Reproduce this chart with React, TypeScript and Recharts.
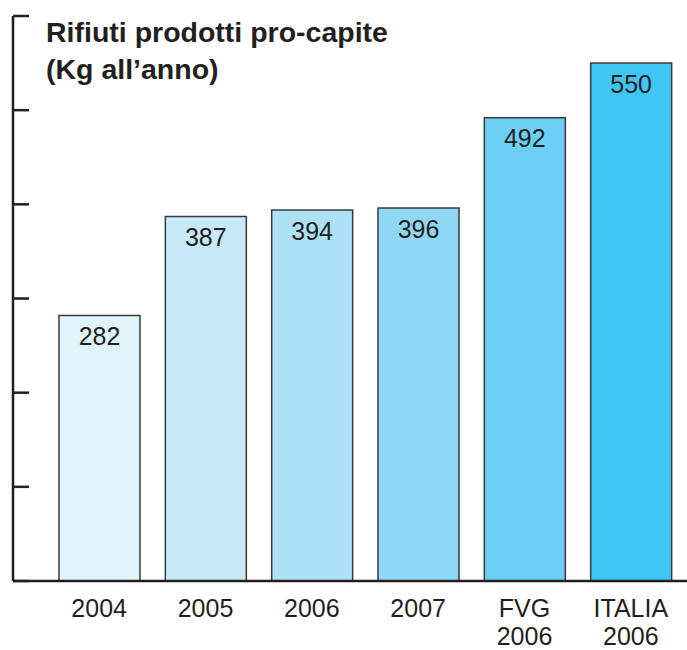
import React from 'react';
import { BarChart, Bar, XAxis, YAxis, Cell, LabelList } from 'recharts';

const categories = ['2004', '2005', '2006', '2007', 'FVG\n2006', 'ITALIA\n2006'];
const values = [282, 387, 394, 396, 492, 550];
const fills = ['#e0f3fb', '#c7e9f8', '#ade1f6', '#8ed7f5', '#6dcff6', '#40c6f4'];
const yTicks = [0, 100, 200, 300, 400, 500, 600];

const data = categories.map((name, i) => ({ name, value: values[i] }));

const ink = '#231f20';
const font = '"Liberation Sans", Arial, Helvetica, sans-serif';

// category labels, some of them on two lines
const CategoryTick = (props: any) => {
  const { x, y, payload } = props;
  const lines = String(payload.value).split('\n');
  return (
    <text x={x} y={y} textAnchor="middle" fill={ink} fontSize={25} fontFamily={font}>
      {lines.map((l, i) => (
        <tspan key={i} x={x} dy={i === 0 ? 28 : 28}>{l}</tspan>
      ))}
    </text>
  );
};

export default function App() {
  return (
    <div style={{ position: 'absolute', left: 0, top: 0, width: 687, height: 650, background: '#fff' }}>
      <BarChart
        width={687}
        height={650}
        data={data}
        margin={{ top: 16, right: 0, left: 13, bottom: 0 }}
        barSize={81}
      >
        <XAxis
          dataKey="name"
          height={69}
          padding={{ left: 33, right: 3 }}
          stroke={ink}
          strokeWidth={2.5}
          tickLine={false}
          tick={<CategoryTick />}
          interval={0}
        />
        <YAxis
          width={1}
          domain={[0, 600]}
          ticks={yTicks}
          mirror
          tickSize={16}
          tickFormatter={() => ''}
          stroke={ink}
          strokeWidth={2.5}
          axisLine={{ stroke: ink, strokeWidth: 2.5 }}
          tickLine={{ stroke: ink, strokeWidth: 2.5 }}
        />
        <Bar dataKey="value" stroke="#3a3a3c" strokeWidth={1.5} isAnimationActive={false}>
          {data.map((d, i) => (
            <Cell key={d.name} fill={fills[i]} />
          ))}
          <LabelList
            dataKey="value"
            position="insideTop"
            offset={12}
            fill={ink}
            fontSize={25}
            fontFamily={font}
          />
        </Bar>
      </BarChart>
      <div
        style={{
          position: 'absolute',
          left: 46,
          top: 14,
          fontFamily: font,
          fontWeight: 'bold',
          fontSize: 28.5,
          lineHeight: '37px',
          color: ink,
        }}
      >
        Rifiuti prodotti pro-capite
        <br />
        (Kg all’anno)
      </div>
    </div>
  );
}
